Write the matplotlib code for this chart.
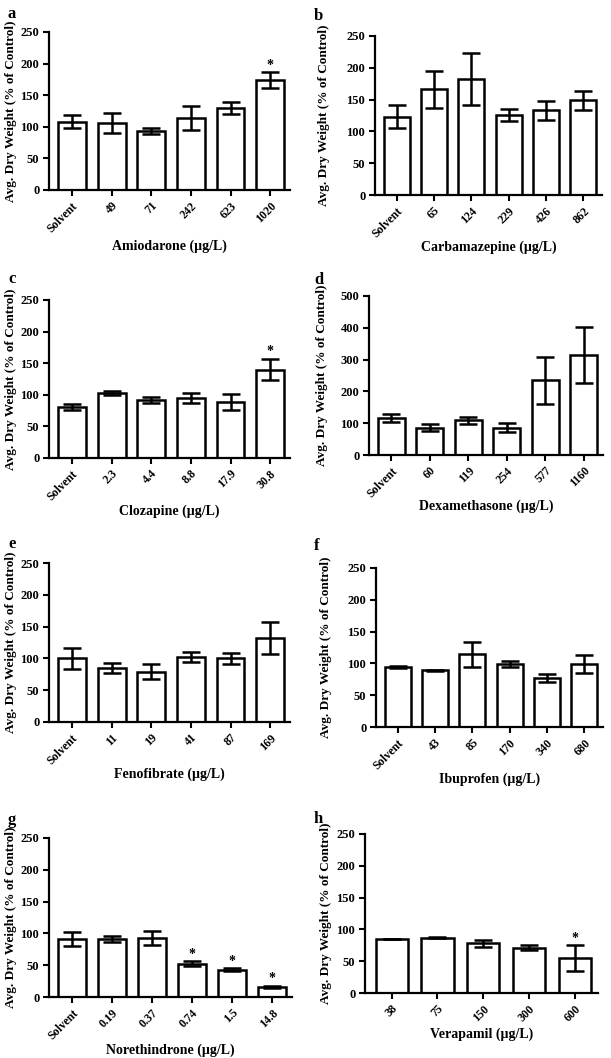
import matplotlib
matplotlib.use('Agg')
import matplotlib.pyplot as plt

plt.rcParams['font.family'] = ['Liberation Serif', 'DejaVu Serif']
plt.rcParams['font.weight'] = 'bold'

# panel data: tick labels, means, error (half range), significance flags
a_labels = ['Solvent', '49', '71', '242', '623', '1020']
a_mean = [108, 106, 93, 114, 130, 174]
a_err = [10, 16, 5, 19, 10, 12]
a_sig = [0, 0, 0, 0, 0, 1]

b_labels = ['Solvent', '65', '124', '229', '426', '862']
b_mean = [123, 166, 183, 126, 133, 149]
b_err = [18, 29, 41, 10, 15, 15]
b_sig = [0, 0, 0, 0, 0, 0]

c_labels = ['Solvent', '2.3', '4.4', '8.8', '17.9', '30.8']
c_mean = [81, 103, 92, 95, 89, 140]
c_err = [5, 3, 5, 8, 13, 17]
c_sig = [0, 0, 0, 0, 0, 1]

d_labels = ['Solvent', '60', '119', '254', '577', '1160']
d_mean = [117, 86, 109, 86, 235, 314]
d_err = [12, 10, 12, 14, 74, 89]
d_sig = [0, 0, 0, 0, 0, 0]

e_labels = ['Solvent', '11', '19', '41', '87', '169']
e_mean = [100, 85, 79, 102, 100, 132]
e_err = [17, 8, 12, 8, 9, 25]
e_sig = [0, 0, 0, 0, 0, 0]

f_labels = ['Solvent', '43', '85', '170', '340', '680']
f_mean = [94, 89, 114, 99, 77, 99]
f_err = [2, 1, 20, 4, 7, 14]
f_sig = [0, 0, 0, 0, 0, 0]

g_labels = ['Solvent', '0.19', '0.37', '0.74', '1.5', '14.8']
g_mean = [91, 91, 92, 52, 43, 16]
g_err = [11, 5, 11, 4, 2, 2]
g_sig = [0, 0, 0, 1, 1, 1]

h_labels = ['38', '75', '150', '300', '600']
h_mean = [85, 87, 78, 71, 55]
h_err = [0.5, 1, 5, 4, 20]
h_sig = [0, 0, 0, 0, 1]

W, H = 611, 1058

# axes boxes in pixels: left, top, right, bottom ; ylabel right edge x (px) ; xlabel top below axis (px)
panels = [
    ('a', 'Amiodarone (\u00b5g/L)', a_labels, a_mean, a_err, a_sig, 250, (49, 32, 290, 190), 17, 50),
    ('b', 'Carbamazepine (\u00b5g/L)', b_labels, b_mean, b_err, b_sig, 250, (375, 36, 602, 195), 330, 46),
    ('c', 'Clozapine (\u00b5g/L)', c_labels, c_mean, c_err, c_sig, 250, (49, 300, 290, 458), 17, 47),
    ('d', 'Dexamethasone (\u00b5g/L)', d_labels, d_mean, d_err, d_sig, 500, (369, 296, 603, 455), 328, 45),
    ('e', 'Fenofibrate (\u00b5g/L)', e_labels, e_mean, e_err, e_sig, 250, (49, 563, 290, 722), 17, 46),
    ('f', 'Ibuprofen (\u00b5g/L)', f_labels, f_mean, f_err, f_sig, 250, (376, 568, 603, 727), 332, 46),
    ('g', 'Norethindrone (\u00b5g/L)', g_labels, g_mean, g_err, g_sig, 250, (49, 838, 292, 997), 17, 47),
    ('h', 'Verapamil (\u00b5g/L)', h_labels, h_mean, h_err, h_sig, 250, (365, 834, 598, 993), 332, 35),
]
letter_pos = {'a': (8, 6), 'b': (314, 8), 'c': (8, 271), 'd': (314, 272),
              'e': (8, 536), 'f': (314, 538), 'g': (8, 812), 'h': (314, 811)}

fig = plt.figure(figsize=(W / 100, H / 100), dpi=100)

for letter, xlabel, labels, mean, err, sig, ymax, box, ylx, xld in panels:
    l, t, r, b = box
    ax = fig.add_axes([l / W, 1 - b / H, (r - l) / W, (b - t) / H])
    x = list(range(len(labels)))
    ax.bar(x, mean, width=0.7, color='white', edgecolor='black', linewidth=1.8, zorder=2)
    ax.errorbar(x, mean, yerr=err, fmt='none', ecolor='black', elinewidth=1.8,
                capsize=6.5, capthick=1.8, zorder=3)
    for xi, m, e, s in zip(x, mean, err, sig):
        if s:
            ax.text(xi, m + e + ymax * 0.005, '*', ha='center', va='bottom', fontsize=10)
    n = len(labels)
    ax.set_xlim(-0.58, n - 1 + 0.5)
    ax.set_ylim(0, ymax)
    ax.set_yticks([ymax * k / 5 for k in range(6)])
    ax.set_xticks(x)
    ax.set_xticklabels(labels, rotation=45, ha='right', rotation_mode='anchor', fontsize=8.5)
    ax.tick_params(axis='y', labelsize=9, width=1.5, length=4, pad=3)
    ax.tick_params(axis='x', width=1.5, length=4, pad=3)
    for sp in ['top', 'right']:
        ax.spines[sp].set_visible(False)
    for sp in ['left', 'bottom']:
        ax.spines[sp].set_linewidth(1.6)
    ax.set_ylabel('Avg. Dry Weight (% of Control)', fontsize=9.5, fontweight='bold')
    ax.yaxis.set_label_coords((ylx - l) / (r - l), 0.5)
    ax.set_xlabel(xlabel, fontsize=10, fontweight='bold')
    ax.xaxis.set_label_coords(0.5, -xld / (b - t))
    lx, ly = letter_pos[letter]
    fig.text(lx / W, 1 - ly / H, letter, fontsize=12, fontweight='bold', va='top')

fig.savefig('out.png', dpi=100)
